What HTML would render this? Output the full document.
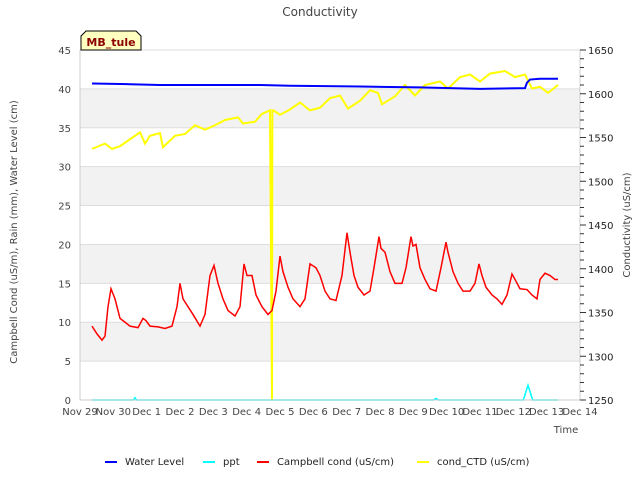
<!DOCTYPE html>
<html><head><meta charset="utf-8"><style>
body{margin:0;background:#fff}
svg{font-family:"DejaVu Sans","Liberation Sans",sans-serif}
</style></head><body>
<svg id="c" width="640" height="480" xmlns="http://www.w3.org/2000/svg">
<text x="320" y="16" text-anchor="middle" font-size="12" fill="#444">Conductivity</text>
<g id="bands"></g><g id="grid"></g>
<g id="series"></g>
<g id="axes"></g>
<text transform="translate(17,232) rotate(-90)" text-anchor="middle" font-size="10" fill="#444">Campbell Cond (uS/m), Rain (mm), Water Level (cm)</text>
<text transform="translate(630,225) rotate(-90)" text-anchor="middle" font-size="10" fill="#444">Conductivity (uS/cm)</text>
<text x="566" y="433" text-anchor="middle" font-size="10" fill="#444">Time</text>
<g>
<path d="M81,50 L81,36 L86,31 L136,31 L141,36 L141,50 Z" fill="#ffffc0" stroke="#000" stroke-width="1"/>
<text x="111" y="46" text-anchor="middle" font-size="11" font-weight="bold" fill="#8b0000">MB_tule</text>
</g>
<g id="legend"></g>
</svg>
<script>
const wlT=[0.36,1.5,2.4,5.4,6.3,8.4,10.2,12.0,13.35,13.41,13.5,13.8,14.34];
const wlV=[40.7,40.6,40.5,40.5,40.4,40.3,40.2,40.0,40.1,40.8,41.2,41.3,41.3];
const pptT=[0.36,1.6,1.65,1.7,10.6,10.68,10.76,13.3,13.44,13.58,14.34];
const pptV=[0,0,0.3,0,0,0.2,0,0,1.9,0,0];
const redT=[.36,.51,.66,.75,.84,.93,1.05,1.2,1.35,1.5,1.74,1.89,1.98,2.1,2.34,2.55,2.76,2.91,3.0,3.09,3.24,3.39,3.6,3.75,3.9,4.02,4.14,4.29,4.44,4.65,4.8,4.92,5.01,5.16,5.28,5.46,5.64,5.76,5.88,6.0,6.09,6.24,6.39,6.6,6.75,6.9,7.08,7.2,7.35,7.5,7.68,7.86,8.01,8.1,8.22,8.34,8.52,8.7,8.82,8.97,9.03,9.15,9.3,9.45,9.66,9.78,9.93,9.99,10.08,10.2,10.35,10.5,10.68,10.83,10.98,11.04,11.19,11.34,11.49,11.7,11.85,11.97,12.06,12.18,12.36,12.51,12.66,12.81,12.96,13.05,13.2,13.41,13.56,13.71,13.8,13.95,14.1,14.25,14.34];
const redV=[9.5,8.5,7.7,8.2,12,14.3,13,10.5,10,9.5,9.3,10.5,10.2,9.5,9.4,9.2,9.5,12,15,13,12,11,9.5,11,16,17.3,15,13,11.5,10.8,12,17.5,16,16,13.5,12,11,11.5,14,18.5,16.5,14.5,13,12,13,17.5,17,16,14,13,12.8,16,21.5,19,16,14.5,13.5,14,17,21,19.5,19,16.5,15,15,17,21,19.8,20,17,15.5,14.3,14,17,20.3,19,16.5,15,14,14,15,17.5,16,14.5,13.5,13,12.3,13.5,16.2,15.5,14.3,14.2,13.5,13,15.5,16.3,16,15.5,15.5];
const ctdT=[.36,.75,.96,1.2,1.65,1.8,1.95,2.1,2.4,2.49,2.85,3.15,3.45,3.75,4.05,4.35,4.74,4.89,5.25,5.46,5.7,5.76,5.77,5.8,6.0,6.3,6.6,6.9,7.2,7.5,7.8,8.04,8.4,8.7,8.94,9.06,9.45,9.75,10.05,10.35,10.8,11.04,11.4,11.7,12.0,12.3,12.75,13.05,13.35,13.56,13.8,14.04,14.34];
const ctdV=[1537,1543,1537,1540,1552,1556,1543,1552,1555,1539,1552,1554,1564,1559,1564,1570,1573,1566,1568,1577,1581,1250,1581,1581,1576,1582,1590,1581,1584,1595,1598,1583,1592,1604,1601,1588,1597,1610,1598,1610,1614,1606,1619,1622,1614,1623,1626,1619,1622,1606,1608,1601,1610];
const xTicks=["Nov 29","Nov 30","Dec 1","Dec 2","Dec 3","Dec 4","Dec 5","Dec 6","Dec 7","Dec 8","Dec 9","Dec 10","Dec 11","Dec 12","Dec 13","Dec 14"];
const lTicks=[0,5,10,15,20,25,30,35,40,45];
const rTicks=[1250,1300,1350,1400,1450,1500,1550,1600,1650];

const X0=80,X1=580,Y0=400,Y1=50,NS='http://www.w3.org/2000/svg';
const sx=d=>X0+d*(X1-X0)/15, syL=v=>Y0-v*(Y0-Y1)/45, syR=v=>Y0-(v-1250)*(Y0-Y1)/400;
function mk(t,a,p){const e=document.createElementNS(NS,t);for(const k in a)e.setAttribute(k,a[k]);document.getElementById(p).appendChild(e);return e;}
for(let i=0;i<9;i++){if(i%2==1){const r=mk('rect',{x:X0,y:syL(lTicks[i+1]),width:X1-X0,height:syL(lTicks[i])-syL(lTicks[i+1]),fill:'#f2f2f2'},'bands');

}}
lTicks.forEach(v=>{const l=mk('line',{x1:X0,x2:X1,y1:syL(v),y2:syL(v),stroke:'#ddd'},'grid');


const t=mk('text',{x:X0-9,y:syL(v)+4,'text-anchor':'end','font-size':10,fill:'#444'},'axes');t.textContent=v;

});
mk('line',{x1:X0,x2:X0,y1:Y1,y2:Y0,stroke:'#ccc'},'axes');
mk('line',{x1:X1,x2:X1,y1:Y1,y2:Y0,stroke:'#ccc'},'axes');
mk('line',{x1:X0,x2:X1,y1:Y0,y2:Y0,stroke:'#ccc'},'axes');
for(let v=1250;v<=1650;v+=10){const l=mk('line',{x1:X1,x2:X1+(v%50?4:6),y1:syR(v),y2:syR(v),stroke:'#333'},'axes');

}
rTicks.forEach(v=>{const t=mk('text',{x:X1+8,y:syR(v)+4,'font-size':10,fill:'#222'},'axes');t.textContent=v;

});
xTicks.forEach((s,i)=>{const t=mk('text',{x:sx(i),y:Y0+15,'text-anchor':'middle','font-size':10,fill:'#444'},'axes');t.textContent=s;

});
function line(T,V,f,c,n,w){const p=mk('polyline',{points:T.map((t,i)=>sx(t)+','+f(V[i])).join(' '),fill:'none',stroke:c,'stroke-width':w},'series');

}
line(ctdT,ctdV,syR,'#ffff00','cond-ctd-line',2);
line(redT,redV,syL,'#ff0000','campbell-cond-line',1.5);
line(pptT,pptV,syL,'#00ffff','ppt-line',1.5);
line(wlT,wlV,syL,'#0000ff','water-level-line',2);
const legN=['Water Level','ppt','Campbell cond (uS/cm)','cond_CTD (uS/cm)'],legC=['#0000ff','#00ffff','#ff0000','#ffff00'],legX=[105,203,257,417];
legN.forEach((s,i)=>{const g=mk('g',{},'legend');


const l=document.createElementNS(NS,'line');l.setAttribute('x1',legX[i]);l.setAttribute('x2',legX[i]+12);l.setAttribute('y1',462);l.setAttribute('y2',462);l.setAttribute('stroke',legC[i]);l.setAttribute('stroke-width',2);g.appendChild(l);
const t=document.createElementNS(NS,'text');t.setAttribute('x',legX[i]+20);t.setAttribute('y',465);t.setAttribute('font-size',10);t.setAttribute('fill','#222');t.textContent=s;g.appendChild(t);});
</script>
</body></html>
